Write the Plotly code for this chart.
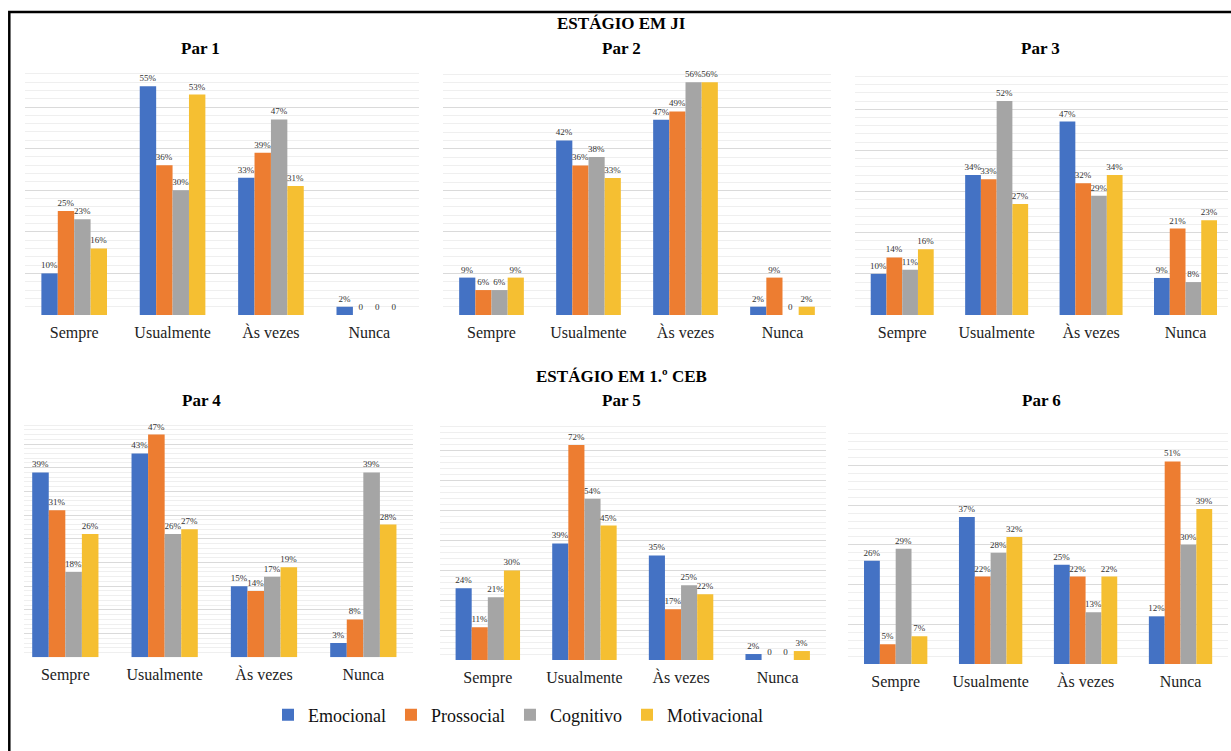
import plotly.graph_objects as go

W, H = 1231, 751

categories = ["Sempre", "Usualmente", "Às vezes", "Nunca"]
series_names = ["Emocional", "Prossocial", "Cognitivo", "Motivacional"]
series_colors = ["#4472C4", "#ED7D31", "#A5A5A5", "#F5BF32"]

# percentage per category, one list per dimension, for each pair
par1_emocional = [10, 55, 33, 2]
par1_prossocial = [25, 36, 39, 0]
par1_cognitivo = [23, 30, 47, 0]
par1_motivacional = [16, 53, 31, 0]

par2_emocional = [9, 42, 47, 2]
par2_prossocial = [6, 36, 49, 9]
par2_cognitivo = [6, 38, 56, 0]
par2_motivacional = [9, 33, 56, 2]

par3_emocional = [10, 34, 47, 9]
par3_prossocial = [14, 33, 32, 21]
par3_cognitivo = [11, 52, 29, 8]
par3_motivacional = [16, 27, 34, 23]

par4_emocional = [39, 43, 15, 3]
par4_prossocial = [31, 47, 14, 8]
par4_cognitivo = [18, 26, 17, 39]
par4_motivacional = [26, 27, 19, 28]

par5_emocional = [24, 39, 35, 2]
par5_prossocial = [11, 72, 17, 0]
par5_cognitivo = [21, 54, 25, 0]
par5_motivacional = [30, 45, 22, 3]

par6_emocional = [26, 37, 25, 12]
par6_prossocial = [5, 22, 22, 51]
par6_cognitivo = [29, 28, 13, 30]
par6_motivacional = [7, 32, 22, 39]

pairs = [
    ("Par 1", [par1_emocional, par1_prossocial, par1_cognitivo, par1_motivacional]),
    ("Par 2", [par2_emocional, par2_prossocial, par2_cognitivo, par2_motivacional]),
    ("Par 3", [par3_emocional, par3_prossocial, par3_cognitivo, par3_motivacional]),
    ("Par 4", [par4_emocional, par4_prossocial, par4_cognitivo, par4_motivacional]),
    ("Par 5", [par5_emocional, par5_prossocial, par5_cognitivo, par5_motivacional]),
    ("Par 6", [par6_emocional, par6_prossocial, par6_cognitivo, par6_motivacional]),
]

# panel layout in pixels: plot area edges, x-range, baseline / top rows, y max,
# grid steps and the centre of the panel title
panels = [
    dict(x0=25, x1=418.5, r0=-0.5, r1=3.5, yb=315, yt=65.4, ymax=60, major=10, minor=2, tx=200.7, ty=49),
    dict(x0=443, x1=831, r0=-0.5, r1=3.5, yb=315, yt=65.7, ymax=60, major=10, minor=2, tx=621, ty=49),
    dict(x0=855, x1=1228, r0=-0.5, r1=3.45, yb=315, yt=68.1, ymax=60, major=10, minor=2, tx=1040.7, ty=49),
    dict(x0=24, x1=413, r0=-0.416, r1=3.5, yb=657.3, yt=420.3, ymax=50, major=5, minor=1, tx=201.7, ty=400.7),
    dict(x0=439.5, x1=826, r0=-0.5, r1=3.5, yb=660, yt=421, ymax=80, major=10, minor=2, tx=621.7, ty=400.7),
    dict(x0=848.2, x1=1228, r0=-0.5, r1=3.5, yb=664, yt=425.7, ymax=60, major=10, minor=2, tx=1041, ty=400.7),
]

SERIF = "Liberation Serif"


def fx(p):
    return p / W


def fy(p):
    return 1 - p / H


def label(v):
    return f"{v}%" if v else "0"


fig = go.Figure()
layout = {}
annotations = []

for i, ((title, values), pn) in enumerate(zip(pairs, panels)):
    n = i + 1
    xa = "x" if n == 1 else f"x{n}"
    ya = "y" if n == 1 else f"y{n}"
    for name, vals, color in zip(series_names, values, series_colors):
        fig.add_trace(go.Bar(
            x=categories, y=vals, name=name,
            marker=dict(color=color, line=dict(width=0)),
            text=[label(v) for v in vals], textposition="outside",
            textfont=dict(family=SERIF, size=9, color="#333333"),
            outsidetextfont=dict(family=SERIF, size=9, color="#333333"),
            constraintext="none", cliponaxis=False,
            offsetgroup=name, legendgroup=name, showlegend=(n == 1),
            xaxis=xa, yaxis=ya, hoverinfo="skip",
        ))
    layout["xaxis" if n == 1 else f"xaxis{n}"] = dict(
        domain=[fx(pn["x0"]), fx(pn["x1"])], range=[pn["r0"], pn["r1"]],
        anchor=ya, showgrid=False, showline=False, zeroline=False, ticks="",
        tickfont=dict(family=SERIF, size=16, color="#222222"),
        ticklabelstandoff=6, fixedrange=True,
    )
    layout["yaxis" if n == 1 else f"yaxis{n}"] = dict(
        domain=[fy(pn["yb"]), fy(pn["yt"])], range=[0, pn["ymax"]],
        anchor=xa, showticklabels=False, ticks="", zeroline=False,
        showgrid=True, gridcolor="#DADADA", gridwidth=1, dtick=pn["major"],
        minor=dict(dtick=pn["minor"], showgrid=True, gridcolor="#EFEFEF", gridwidth=1),
        fixedrange=True,
    )
    annotations.append(dict(
        text=f"<b>{title}</b>", xref="paper", yref="paper",
        x=fx(pn["tx"]), y=fy(pn["ty"]), xanchor="center", yanchor="middle",
        showarrow=False, font=dict(family=SERIF, size=17, color="#000000"),
    ))

for text, ypix in (("ESTÁGIO EM JI", 24), ("ESTÁGIO EM 1.º CEB", 376.7)):
    annotations.append(dict(
        text=f"<b>{text}</b>", xref="paper", yref="paper",
        x=fx(621), y=fy(ypix), xanchor="center", yanchor="middle",
        showarrow=False, font=dict(family=SERIF, size=17, color="#000000"),
    ))

# frame line along the left and top edges
shapes = [dict(
    type="path", xref="paper", yref="paper",
    path=f"M {fx(9.3)},0 L {fx(9.3)},{fy(12)} L 1,{fy(12)}",
    line=dict(color="#000000", width=2.5),
)]

fig.update_layout(
    width=W, height=H, autosize=False,
    margin=dict(l=0, r=0, t=0, b=0, pad=0),
    paper_bgcolor="white", plot_bgcolor="white",
    font=dict(family=SERIF, color="#111111"),
    barmode="group", bargap=0.333, bargroupgap=0,
    annotations=annotations, shapes=shapes,
    legend=dict(
        orientation="h", x=fx(268), y=fy(715), xanchor="left", yanchor="middle",
        font=dict(family=SERIF, size=18, color="#111111"),
        itemwidth=30, bgcolor="rgba(0,0,0,0)", tracegroupgap=0,
    ),
    **layout,
)

fig.write_html("out.html", config={"displayModeBar": False})
